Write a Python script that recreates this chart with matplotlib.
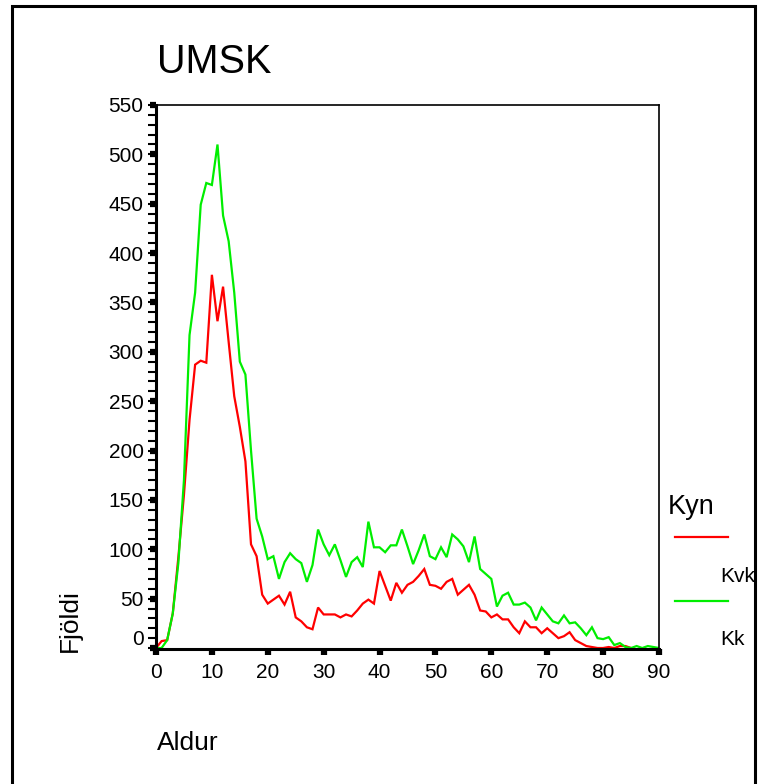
import matplotlib
matplotlib.use("Agg")
import matplotlib.pyplot as plt
from matplotlib.lines import Line2D
from matplotlib.patches import Rectangle
from matplotlib.ticker import MultipleLocator
import matplotlib.transforms as mtransforms

plt.rcParams['font.family'] = ['Liberation Sans', 'DejaVu Sans']

# ages 0..90
ages = list(range(91))

kvk = [0, 7, 8, 35, 92, 155, 231, 287, 291, 289,
       378, 331, 366, 310, 255, 224, 189, 105, 93, 54,
       45, 49, 53, 44, 57, 31, 27, 21, 19, 41,
       34, 34, 34, 31, 34, 32, 38, 45, 49, 45,
       78, 63, 48, 66, 56, 64, 67, 73, 80, 64,
       63, 60, 67, 70, 54, 59, 64, 54, 38, 37,
       31, 34, 29, 29, 21, 15, 27, 21, 21, 15,
       20, 15, 10, 12, 16, 8, 5, 2, 1, 0,
       0, 1, 0, 2, 2, 0]

kk = [0, 0, 8, 35, 86, 170, 317, 360, 449, 471,
      469, 510, 438, 412, 360, 290, 277, 200, 131, 113,
      90, 93, 70, 87, 96, 90, 86, 67, 84, 120,
      105, 94, 105, 89, 72, 87, 92, 82, 128, 102,
      102, 97, 104, 104, 120, 103, 85, 99, 115, 93,
      90, 102, 92, 115, 110, 103, 87, 113, 80, 75,
      70, 42, 53, 56, 44, 44, 46, 41, 28, 41,
      34, 27, 25, 33, 25, 26, 20, 13, 21, 10,
      9, 11, 3, 5, 1, 0, 2, 0, 2, 1,
      0]

W, H = 764, 784
fig = plt.figure(figsize=(W / 100, H / 100), dpi=100)
ax = fig.add_axes([156 / W, 1 - 649 / H, (659 - 156) / W, (649 - 105) / H])

ax.plot(ages[:len(kvk)], kvk, color='#ff0000', lw=1.6, solid_joinstyle='miter')
ax.plot(ages, kk, color='#00ee00', lw=1.6, solid_joinstyle='miter')

ax.set_xlim(0, 90)
ax.set_ylim(-1, 550)
ax.xaxis.set_major_locator(MultipleLocator(10))
ax.yaxis.set_major_locator(MultipleLocator(50))
ax.yaxis.set_minor_locator(MultipleLocator(10))
ax.yaxis.remove_overlapping_locs = False

for side in ['left', 'bottom']:
    ax.spines[side].set_linewidth(2.2)
for side in ['top', 'right']:
    ax.spines[side].set_linewidth(1.2)

ax.tick_params(axis='both', which='major', direction='out', length=4, width=4.5,
               labelsize=15, colors='black')
ax.tick_params(axis='y', which='major', pad=5)
ax.tick_params(axis='x', which='major', pad=6)
ax.tick_params(axis='y', which='minor', direction='out', length=6, width=1.5)

fig.canvas.draw()
# the "0" label sits a bit above the axis line
lab0 = ax.get_yticklabels()[0]
off = mtransforms.ScaledTranslation(0, 11 / 100, fig.dpi_scale_trans)
for t in ax.yaxis.get_major_ticks():
    if abs(t.get_loc()) < 1e-9:
        t.label1.set_transform(t.label1.get_transform() + off)

fig.text(157 / W, 1 - 73 / H, 'UMSK', fontsize=28.5, va='baseline', ha='left')
fig.text(157 / W, 1 - 750 / H, 'Aldur', fontsize=19, va='baseline', ha='left')
fig.text(70 / W, 1 - 652 / H, 'Fjöldi', fontsize=19, rotation=90,
         va='bottom', ha='center')

# legend
fig.text(668 / W, 1 - 514 / H, 'Kyn', fontsize=19.5, va='baseline', ha='left')
fig.add_artist(Line2D([675 / W, 728 / W], [1 - 537 / H, 1 - 537 / H],
                      color='#ff0000', lw=1.6))
fig.text(720 / W, 1 - 582 / H, 'Kvk', fontsize=15, va='baseline', ha='left')
fig.add_artist(Line2D([675 / W, 728 / W], [1 - 601 / H, 1 - 601 / H],
                      color='#00ee00', lw=1.6))
fig.text(720 / W, 1 - 645 / H, 'Kk', fontsize=15, va='baseline', ha='left')

# outer frame
fig.add_artist(Rectangle((11.5 / W, -0.05), (755 - 11.5) / W, 1.05 - 6.5 / H,
                         transform=fig.transFigure, fill=False,
                         edgecolor='black', lw=2.2))

fig.savefig('out.png', dpi=100)
